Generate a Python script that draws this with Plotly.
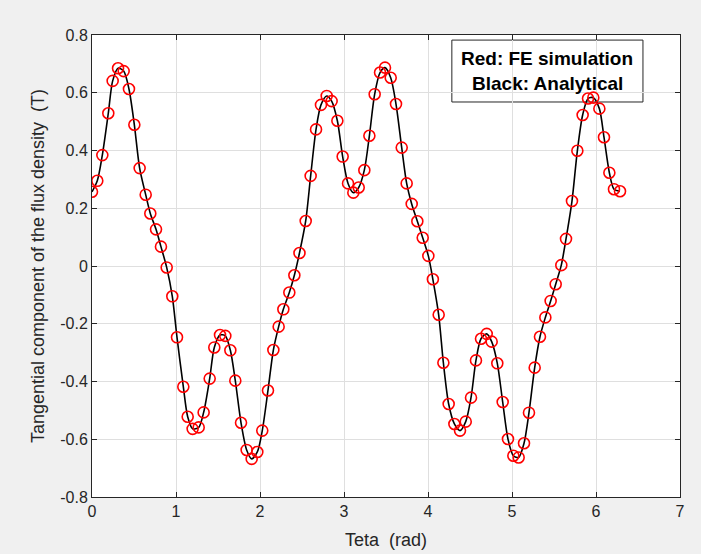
import plotly.graph_objects as go

# Sample positions (rad) and tangential flux density (T)
teta = [0.000, 0.063, 0.123, 0.194, 0.246, 0.310, 0.377, 0.440, 0.504, 0.567,
        0.639, 0.694, 0.762, 0.821, 0.889, 0.956, 1.012, 1.087, 1.139, 1.198,
        1.270, 1.329, 1.401, 1.456, 1.524, 1.587, 1.647, 1.706, 1.774, 1.841,
        1.901, 1.968, 2.027, 2.095, 2.159, 2.222, 2.278, 2.349, 2.409, 2.470,
        2.544, 2.603, 2.667, 2.726, 2.794, 2.853, 2.921, 2.984, 3.048, 3.111,
        3.175, 3.242, 3.302, 3.365, 3.429, 3.488, 3.556, 3.619, 3.687, 3.746,
        3.806, 3.873, 3.937, 4.004, 4.058, 4.127, 4.183, 4.246, 4.314, 4.381,
        4.449, 4.512, 4.571, 4.631, 4.699, 4.758, 4.825, 4.889, 4.952, 5.016,
        5.079, 5.143, 5.202, 5.270, 5.333, 5.397, 5.460, 5.520, 5.587, 5.643,
        5.714, 5.778, 5.841, 5.905, 5.968, 6.040, 6.095, 6.159, 6.214, 6.286]

b_fe = [0.257, 0.295, 0.384, 0.529, 0.641, 0.685, 0.675, 0.613, 0.489, 0.339,
        0.247, 0.182, 0.127, 0.067, -0.005, -0.105, -0.247, -0.418, -0.522, -0.564,
        -0.559, -0.507, -0.390, -0.282, -0.239, -0.242, -0.292, -0.397, -0.543, -0.637,
        -0.668, -0.644, -0.570, -0.431, -0.291, -0.210, -0.150, -0.092, -0.032, 0.045,
        0.156, 0.312, 0.473, 0.558, 0.589, 0.571, 0.503, 0.379, 0.286, 0.254,
        0.272, 0.332, 0.451, 0.595, 0.670, 0.687, 0.652, 0.561, 0.410, 0.286,
        0.215, 0.155, 0.098, 0.035, -0.046, -0.169, -0.335, -0.478, -0.547, -0.570,
        -0.539, -0.456, -0.327, -0.252, -0.235, -0.262, -0.337, -0.471, -0.599, -0.657,
        -0.663, -0.614, -0.508, -0.352, -0.245, -0.178, -0.121, -0.063, 0.003, 0.094,
        0.225, 0.399, 0.523, 0.580, 0.583, 0.545, 0.446, 0.323, 0.266, 0.259]

x_ticks = [0, 1, 2, 3, 4, 5, 6, 7]
y_ticks = [-0.8, -0.6, -0.4, -0.2, 0, 0.2, 0.4, 0.6, 0.8]
y_tick_text = ["-0.8", "-0.6", "-0.4", "-0.2", "0", "0.2", "0.4", "0.6", "0.8"]

FONT = "Liberation Sans, Arial, sans-serif"
AX = "#262626"

fig = go.Figure()
fig.add_trace(go.Scatter(
    x=teta, y=b_fe, mode="lines",
    line=dict(color="black", width=1.6, shape="spline", smoothing=0.8),
    showlegend=False, hoverinfo="skip"))
fig.add_trace(go.Scatter(
    x=teta, y=b_fe, mode="markers",
    marker=dict(symbol="circle-open", size=11, color="#ff0000",
                line=dict(color="#ff0000", width=1.6)),
    showlegend=False))

axis_common = dict(
    showline=True, linecolor=AX, linewidth=1, mirror="allticks",
    ticks="inside", ticklen=5, tickcolor=AX, tickwidth=1,
    showgrid=True, gridcolor="#dfdfdf", gridwidth=1, automargin=False,
    zeroline=False, tickfont=dict(family=FONT, size=16, color=AX),
)

fig.update_xaxes(range=[0, 7], tickvals=x_ticks,
                 title=dict(text="Teta  (rad)", font=dict(family=FONT, size=18, color=AX), standoff=14),
                 **axis_common)
fig.update_yaxes(range=[-0.8, 0.8], tickvals=y_ticks, ticktext=y_tick_text,
                 title=dict(text="Tangential component of the flux density  (T)",
                            font=dict(family=FONT, size=18, color=AX), standoff=10),
                 **axis_common)

fig.add_shape(type="rect", xref="paper", yref="paper",
              x0=0.612, x1=0.937, y0=0.855, y1=0.989,
              fillcolor="white", line=dict(color=AX, width=1), layer="between")
fig.add_annotation(xref="paper", yref="paper", x=0.7745, y=0.950,
                   xanchor="center", yanchor="middle",
                   text="<b>Red: FE simulation</b>", showarrow=False,
                   font=dict(family=FONT, size=19, color="black"))
fig.add_annotation(xref="paper", yref="paper", x=0.7745, y=0.894,
                   xanchor="center", yanchor="middle",
                   text="<b>Black: Analytical</b>", showarrow=False,
                   font=dict(family=FONT, size=19, color="black"))

fig.update_layout(
    width=701, height=554,
    margin=dict(l=92, r=21, t=35, b=57),
    paper_bgcolor="#f0f0f0", plot_bgcolor="white",
    font=dict(family=FONT, color=AX),
)

fig.write_html("out.html", config={"displayModeBar": False},
               post_script="document.body.style.margin='0';")
